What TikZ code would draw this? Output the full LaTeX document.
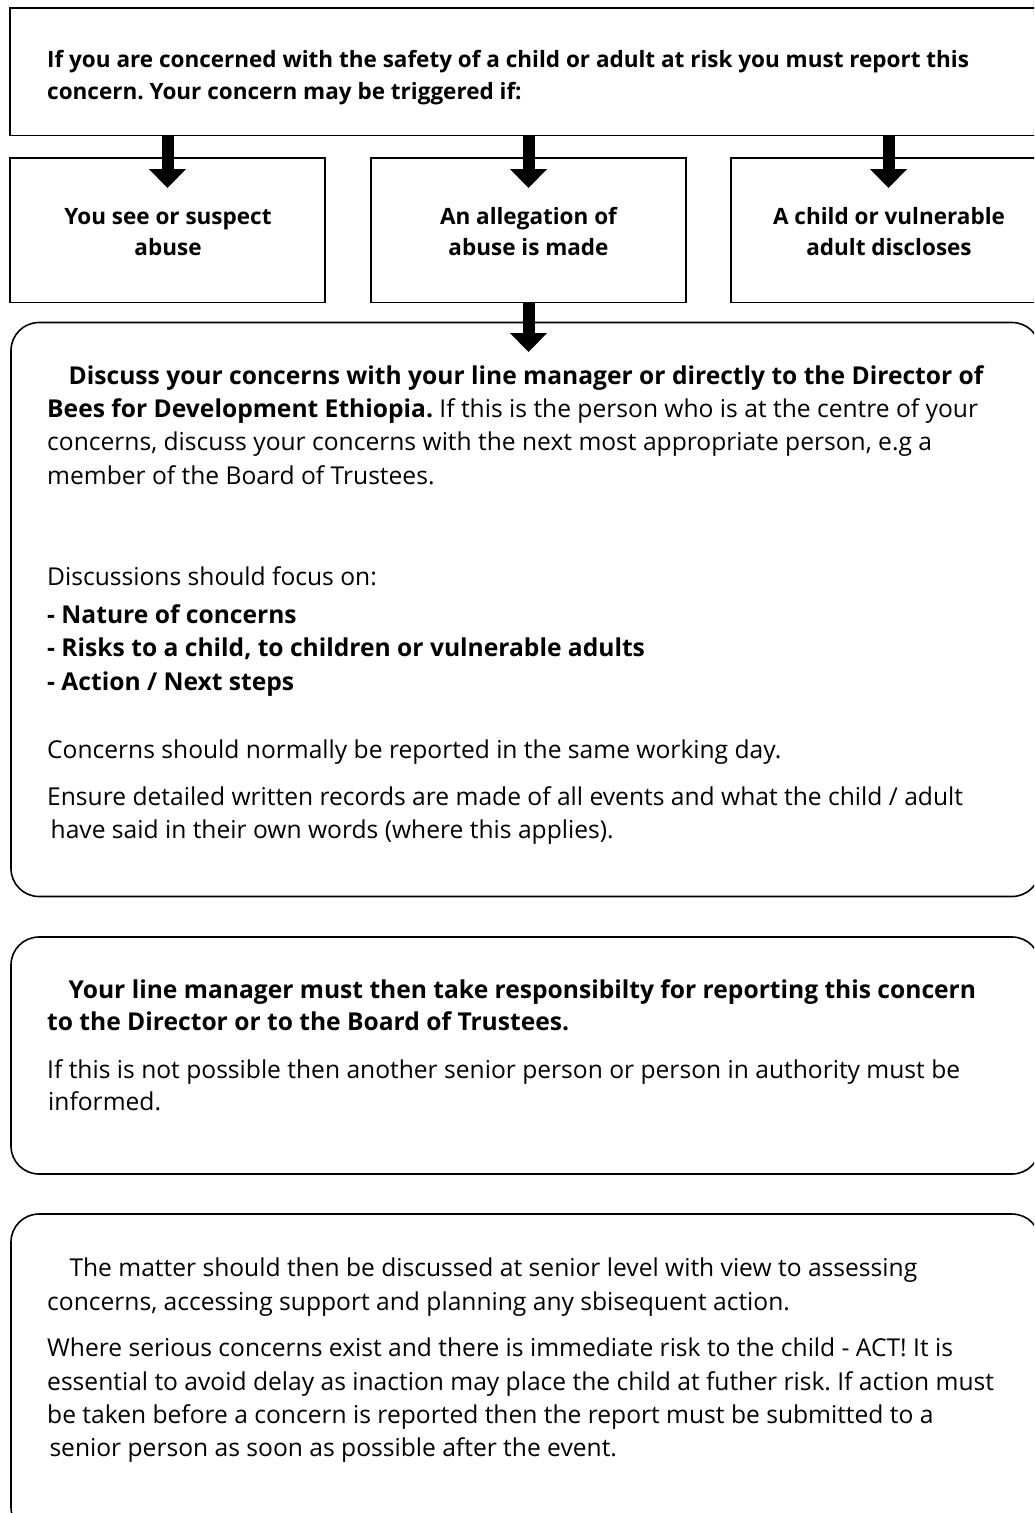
\documentclass[tikz,border=0pt]{standalone}
\usepackage{fontspec}
\setmainfont{Open Sans}
\usetikzlibrary{arrows.meta}
\frenchspacing
\begin{document}
\begin{tikzpicture}[x=1pt,y=-1pt,
  sqbox/.style={draw, line width=1.6pt, rectangle, inner sep=0pt, outer sep=0pt},
  rbox/.style={draw, line width=1.6pt, rectangle, rounded corners=28pt, inner sep=0pt, outer sep=0pt},
  txt/.style={anchor=base west, inner sep=0pt, font=\fontsize{24.6}{33}\selectfont},
  btxt/.style={anchor=base west, inner sep=0pt, font=\fontsize{24.6}{33}\selectfont\bfseries},
  htxt/.style={anchor=base west, inner sep=0pt, font=\fontsize{22.5}{31}\selectfont\bfseries},
  ctxt/.style={anchor=base, inner sep=0pt, font=\fontsize{22.5}{31}\selectfont\bfseries},
  fat/.style={line width=12pt, -{Triangle[width=36pt,length=19pt]}},
]
\clip (0,0) rectangle (1034,1513);
\fill[white] (0,0) rectangle (1034,1513);

% boxes
\node[sqbox, minimum width=1035pt, minimum height=127.5pt] (top) at (527.5,71.75) {};
\node[sqbox, minimum width=315pt, minimum height=144.5pt] (b1) at (167.5,230.25) {};
\node[sqbox, minimum width=315pt, minimum height=144.5pt] (b2) at (528.5,230.25) {};
\node[sqbox, minimum width=315pt, minimum height=144.5pt] (b3) at (888.5,230.25) {};
\node[rbox, minimum width=1029pt, minimum height=574pt] (r1) at (525.5,609.5) {};
\node[rbox, minimum width=1029pt, minimum height=237pt] (r2) at (525.5,1055.5) {};
\node[rbox, minimum width=1029pt, minimum height=321pt] (r3) at (525.5,1374.5) {};

% arrows
\draw[fat] (top.south -| b1.north) -- ([yshift=-30pt]b1.north);
\draw[fat] (top.south -| b2.north) -- ([yshift=-30pt]b2.north);
\draw[fat] (top.south -| b3.north) -- ([yshift=-30pt]b3.north);
\draw[fat] (b2.south) -- ([yshift=-29.5pt]b2.south |- r1.north);

% top box text
\node[htxt] (t1) at (47,67.7) {If you are concerned with the safety of a child or adult at risk you must report this};
\node[htxt] (t2) at (47,99) {concern. Your concern may be triggered if:};

% small boxes
\node[ctxt] (b1a) at (168,224) {You see or suspect};
\node[ctxt] (b1b) at (168,255) {abuse};
\node[ctxt] (b2a) at (528.5,224) {An allegation of};
\node[ctxt] (b2b) at (528.5,255) {abuse is made};
\node[ctxt] (b3a) at (889,224) {A child or vulnerable};
\node[ctxt] (b3b) at (889,255) {adult discloses};

% box 1
\node[btxt] (r1a) at (68.5,384) {Discuss your concerns with your line manager or directly to the Director of};
\node[txt] (r1b) at (47,417.3) {\textbf{Bees for Development Ethiopia.} If this is the person who is at the centre of your};
\node[txt] (r1c) at (47,450.7) {concerns, discuss your concerns with the next most appropriate person, e.g a};
\node[txt] (r1d) at (47,484) {member of the Board of Trustees.};
\node[txt] (r1e) at (47,585) {Discussions should focus on:};
\node[btxt] (r1f) at (47,623.3) {- Nature of concerns};
\node[btxt] (r1g) at (47,656.7) {- Risks to a child, to children or vulnerable adults};
\node[btxt] (r1h) at (47,690) {- Action / Next steps};
\node[txt] (r1i) at (47,758.3) {Concerns should normally be reported in the same working day.};
\node[txt] (r1j) at (47,805) {Ensure detailed written records are made of all events and what the child / adult};
\node[txt] (r1k) at (50.5,838.3) {have said in their own words (where this applies).};

% box 2
\node[btxt] (r2a) at (68.5,998.3) {Your line manager must then take responsibilty for reporting this concern};
\node[btxt] (r2b) at (47,1030) {to the Director or to the Board of Trustees.};
\node[txt] (r2c) at (47,1078.3) {If this is not possible then another senior person or person in authority must be};
\node[txt] (r2d) at (48,1110) {informed.};

% box 3
\node[txt] (r3a) at (69.3,1276.7) {The matter should then be discussed at senior level with view to assessing};
\node[txt] (r3b) at (47,1310) {concerns, accessing support and planning any sbisequent action.};
\node[txt] (r3c) at (47,1356) {Where serious concerns exist and there is immediate risk to the child - ACT! It is};
\node[txt] (r3d) at (47,1390) {essential to avoid delay as inaction may place the child at futher risk. If action must};
\node[txt] (r3e) at (47,1423.3) {be taken before a concern is reported then the report must be submitted to a};
\node[txt] (r3f) at (49.3,1456.7) {senior person as soon as possible after the event.};
\end{tikzpicture}
\end{document}
